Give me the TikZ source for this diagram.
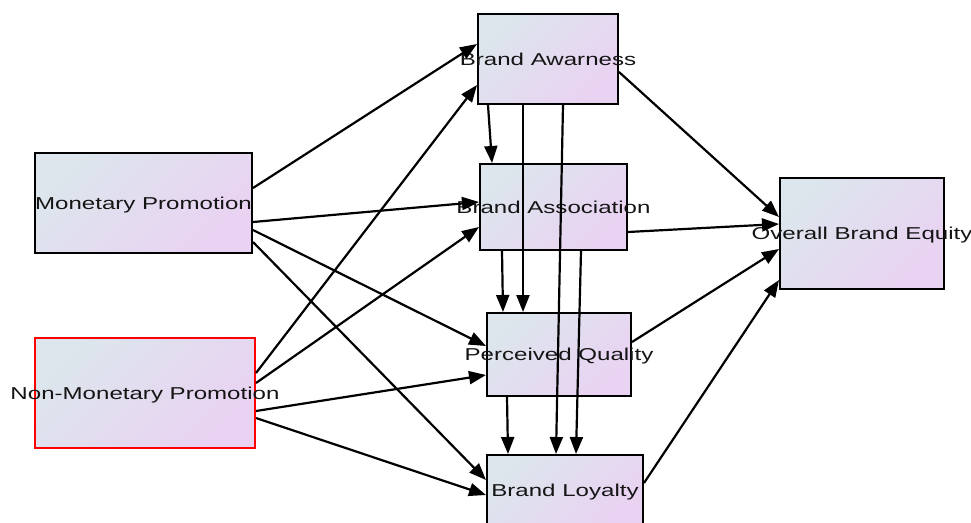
\documentclass[tikz,border=0pt]{standalone}
\usepackage{fontspec}
\setmainfont{Liberation Sans}
\usetikzlibrary{arrows.meta}
\definecolor{boxA}{HTML}{DCE6EC}
\definecolor{boxB}{HTML}{EAD2F3}
\definecolor{txt}{HTML}{151515}
\newcommand{\lbl}[1]{\makebox[0pt]{\smash{\raisebox{-6pt}{\scalebox{1.4}[1]{#1}}}}}
\tikzset{
  varbox/.style={rectangle, draw=black, line width=2pt, inner sep=0pt,
    top color=boxA, bottom color=boxB, shading angle=45,
    font=\fontsize{17.2}{18}\selectfont, text=txt},
  conn/.style={line width=2.2pt, -{Triangle[length=17pt,width=13pt]}}
}
\begin{document}
\begin{tikzpicture}[x=1pt,y=-1pt]
\useasboundingbox (0,0) rectangle (971,522);
\node[varbox, minimum width=217pt, minimum height=100pt] (mon) at (143.5,203) {\lbl{Monetary Promotion}};
\node[varbox, draw=red, minimum width=220pt, minimum height=110pt] (non) at (145,393) {\lbl{Non-Monetary Promotion}};
\node[varbox, minimum width=140pt, minimum height=90pt] (aw) at (548,59) {\lbl{Brand Awarness}};
\node[varbox, minimum width=147pt, minimum height=86pt] (as) at (553.5,207) {\lbl{Brand Association}};
\node[varbox, minimum width=144pt, minimum height=83pt] (pq) at (559,354.5) {\lbl{Perceived Quality}};
\node[varbox, minimum width=156pt, minimum height=70pt] (lo) at (565,490) {\lbl{Brand Loyalty}};
\node[varbox, minimum width=164pt, minimum height=111pt] (eq) at (862,233.5) {\lbl{Overall Brand Equity}};
% from Monetary Promotion
\draw[conn] ([yshift=15pt]mon.east) -- ([yshift=15pt]aw.west);
\draw[conn] ([yshift=-19pt]mon.east) -- ([yshift=5pt]as.west);
\draw[conn] ([yshift=-27pt]mon.east) -- ([yshift=8.5pt]pq.west);
\draw[conn] ([yshift=-39pt]mon.east) -- ([yshift=10pt]lo.west);
% from Non-Monetary Promotion
\draw[conn] ([yshift=20pt]non.east) -- ([yshift=-26pt]aw.west);
\draw[conn] ([yshift=10pt]non.east) -- ([yshift=-20pt]as.west);
\draw[conn] ([yshift=-18pt]non.east) -- ([yshift=-20.5pt]pq.west);
\draw[conn] ([yshift=-25pt]non.east) -- ([yshift=-5pt]lo.west);
% vertical links
\draw[conn] ([xshift=-60pt]aw.south) -- ([xshift=-61.5pt]as.north);
\draw[conn] ([xshift=-25pt]aw.south) -- ([xshift=-36pt]pq.north);
\draw[conn] ([xshift=15pt]aw.south) -- ([xshift=-9pt]lo.north);
\draw[conn] ([xshift=-51.5pt]as.south) -- ([xshift=-56pt]pq.north);
\draw[conn] ([xshift=27.5pt]as.south) -- ([xshift=11pt]lo.north);
\draw[conn] ([xshift=-52pt]pq.south) -- ([xshift=-57pt]lo.north);
% to Overall Brand Equity
\draw[conn] ([yshift=-13pt]aw.east) -- ([yshift=16.5pt]eq.west);
\draw[conn] ([yshift=-25pt]as.east) -- ([yshift=9.5pt]eq.west);
\draw[conn] ([yshift=12.5pt]pq.east) -- ([yshift=-15.5pt]eq.west);
\draw[conn] ([yshift=7pt]lo.east) -- ([yshift=-46.5pt]eq.west);
\end{tikzpicture}
\end{document}
